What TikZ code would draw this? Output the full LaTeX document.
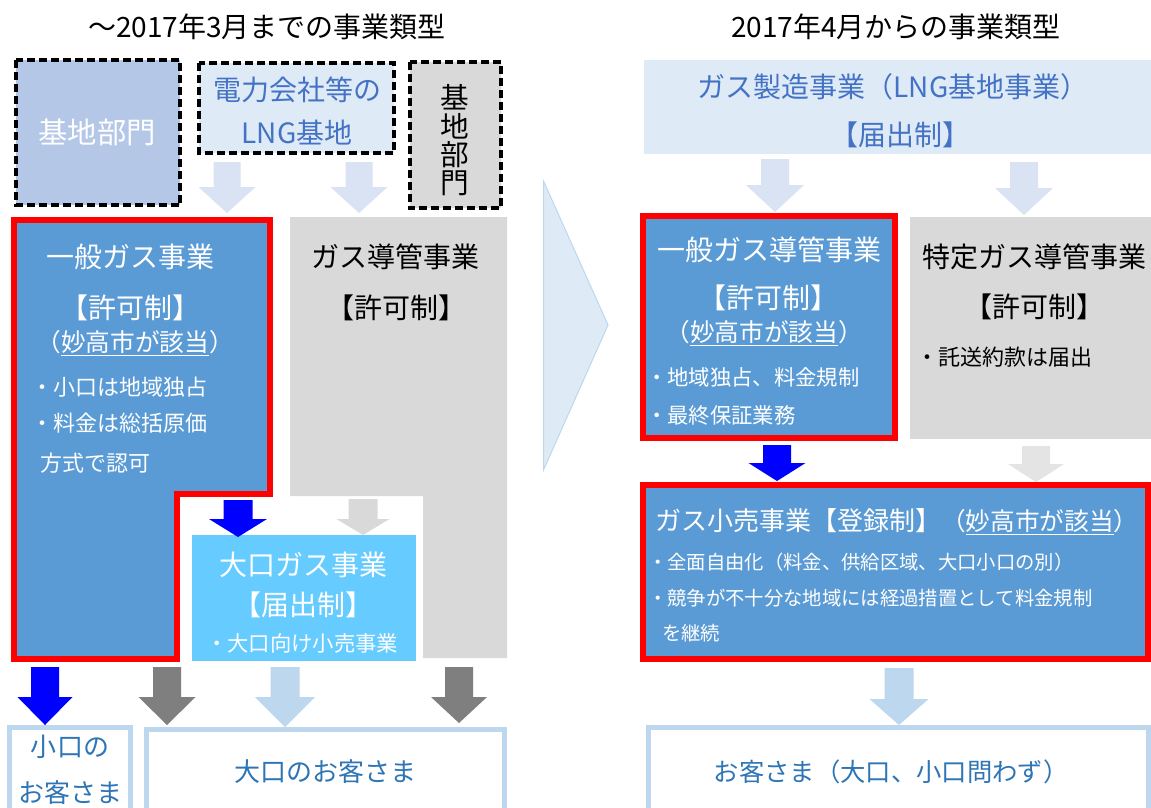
\documentclass[tikz,border=0pt]{standalone}
\usepackage{fontspec}
\setmainfont{Noto Sans CJK JP}
\definecolor{bfill}{HTML}{5B9BD5}
\definecolor{redline}{HTML}{FF0000}
\definecolor{lgray}{HTML}{D9D9D9}
\definecolor{llgray}{HTML}{E4E4E4}
\definecolor{dgray}{HTML}{7F7F7F}
\definecolor{palebl}{HTML}{DEEBF7}
\definecolor{kichi}{HTML}{B4C7E7}
\definecolor{arrpale}{HTML}{DAE3F3}
\definecolor{arrlb}{HTML}{BDD7EE}
\definecolor{cyanf}{HTML}{66CCFF}
\definecolor{txtblue}{HTML}{4472C4}
\definecolor{custblue}{HTML}{2E75B6}
\definecolor{pureblue}{HTML}{0000FF}
\newcommand\fsz[1]{\fontsize{#1}{#1}\selectfont}
\newcommand\blockarr[7]{\fill[#1] ({#2-#6},#3) -- ({#2+#6},#3) -- ({#2+#6},#4) -- ({#2+#7},#4) -- (#2,#5) -- ({#2-#7},#4) -- ({#2-#6},#4) -- cycle;}
\tikzset{
  lab/.style={inner sep=0pt, font=\fsz{21}},
  bul/.style={inner sep=0pt, anchor=west, font=\fsz{16.5}},
  dashbox/.style={draw=black, line width=3pt, dash pattern=on 6pt off 3pt},
  redb/.style={draw=redline, line width=4.5pt, miter limit=10},
  custb/.style={draw=arrlb, line width=3.75pt},
  chev/.style={fill=palebl, draw=arrlb, line width=0.75pt},
}
\begin{document}
\begin{tikzpicture}[x=0.75pt,y=-0.75pt]
\clip (0,0) rectangle (1151,807);
\fill[white] (0,0) rectangle (1151,807);

% titles
\node[lab] (titleL) at (267,27) {～2017年3月までの事業類型};
\node[lab] (titleR) at (896,27) {2017年4月からの事業類型};

% ---------- left panel ----------
\draw[dashbox, fill=kichi] (15.5,60) rectangle (180,205);
\node[lab, text=white, font=\fsz{22}] (kichiL) at (97,132) {基地部門};
\draw[dashbox, fill=palebl] (199,62.7) rectangle (394,152.7);
\node[lab, text=txtblue] (elec1) at (297,90) {電力会社等の};
\node[lab, text=txtblue] (elec2) at (297,133) {LNG基地};
\draw[dashbox, fill=lgray] (410,61.7) rectangle (500.7,208.3);
\node[lab, align=center, font=\fontsize{21.5}{21.2}\selectfont] (kichiV) at (455,140.5) {基\\地\\部\\門};

\draw[redb, fill=bfill] (13.8,219.5) -- (269.7,219.5) -- (269.7,493.5) -- (176.7,493.5) -- (176.7,658.5) -- (13.8,658.5) -- cycle;
\fill[lgray] (290,217) -- (507,217) -- (507,658) -- (423,658) -- (423,496) -- (290,496) -- cycle;
\fill[cyanf] (192,535) rectangle (416,661);

\node[lab, text=white] (ippan) at (130,257) {一般ガス事業};
\node[lab, text=white] (kyokaL) at (130,308) {【許可制】};
\node[lab, text=white, font=\fsz{18.5}] (myokoL) at (135,343) {（\underline{妙高市が該当}）};
\node[bul, text=white] (bL1) at (31,387) {・小口は地域独占};
\node[bul, text=white] (bL2) at (31,423) {・料金は総括原価};
\node[bul, text=white] (bL3) at (40,463) {方式で認可};

\node[lab] (doukan) at (395,257) {ガス導管事業};
\node[lab] (kyokaD) at (396,308) {【許可制】};

\node[lab, text=white] (ooguchi) at (303,565) {大口ガス事業};
\node[lab, text=white] (todokeL) at (303,605) {【届出制】};
\node[lab, text=white, font=\fsz{16}] (oobul) at (302,643) {・大口向け小売事業};

\draw[custb] (9.5,727.5) rectangle (130.5,830);
\draw[custb] (146.5,729.5) rectangle (504.5,830);
\node[lab, text=custblue, font=\fsz{19.5}] (kog1) at (70,747) {小口の};
\node[lab, text=custblue, font=\fsz{19.5}] (kog2) at (70,793) {お客さま};
\node[lab, text=custblue, font=\fsz{19.5}] (oog) at (325,772) {大口のお客さま};

% arrows left
\blockarr{arrpale}{227}{162}{187}{213}{13.5}{28.5}
\blockarr{arrpale}{359}{162}{187}{213}{13.5}{28.5}
\blockarr{pureblue}{238}{500}{519}{537}{14.5}{29}
\blockarr{lgray}{363}{499}{519}{535}{14.5}{26.5}
\blockarr{pureblue}{45}{667}{697}{725}{14}{27.5}
\blockarr{dgray}{167}{667}{697}{725}{14}{28.5}
\blockarr{arrlb}{285}{667}{697}{727}{14.5}{30}
\blockarr{dgray}{459}{667}{697}{723}{14}{28}

% chevron
\draw[chev] (543.5,181) -- (608,325) -- (543.5,470) -- cycle;

% ---------- right panel ----------
\fill[palebl] (644,60) rectangle (1151,154);
\node[lab, text=txtblue] (seizou) at (893,87) {ガス製造事業（LNG基地事業）};
\node[lab, text=txtblue] (todokeR) at (900,135) {【届出制】};

\draw[redb, fill=bfill] (643,216) rectangle (895,438);
\fill[lgray] (910,217) rectangle (1151,439);
\draw[redb, fill=bfill] (643,485) rectangle (1148,659);
\draw[custb] (648.5,727.5) rectangle (1148.5,830);

\node[lab, text=white] (ippanD) at (769,250) {一般ガス導管事業};
\node[lab, text=white] (kyokaR) at (768,298) {【許可制】};
\node[lab, text=white, font=\fsz{18.5}] (myokoR) at (764,333) {（\underline{妙高市が該当}）};
\node[bul, text=white, font=\fsz{16}] (bR1) at (646,377) {・地域独占、料金規制};
\node[bul, text=white, font=\fsz{16}] (bR2) at (646,415) {・最終保証業務};

\node[lab] (tokutei) at (1034,257) {特定ガス導管事業};
\node[lab] (kyokaT) at (1034,307) {【許可制】};
\node[bul] (bT1) at (916,357) {・託送約款は届出};

\node[lab, anchor=west, text=white, font=\fsz{19.5}] (kouri) at (655,522) {ガス小売事業【登録制】{\fsz{18.5}（\underline{妙高市が該当}）}};
\node[bul, text=white, font=\fsz{14.5}] (bK1) at (648,562) {・全面自由化（料金、供給区域、大口小口の別）};
\node[bul, text=white, font=\fsz{14.5}] (bK2) at (648,598) {・競争が不十分な地域には経過措置として料金規制};
\node[bul, text=white, font=\fsz{14.5}] (bK3) at (662,633) {を継続};

\node[lab, text=custblue, font=\fsz{19}] (custR) at (891,772) {お客さま（大口、小口問わず）};

% arrows right
\blockarr{arrpale}{775}{159}{185}{212}{14}{29}
\blockarr{arrpale}{1024}{162}{188}{215}{14}{29}
\blockarr{pureblue}{777}{445}{463}{481}{14}{28.5}
\blockarr{llgray}{1036}{446}{464}{482}{14}{28}
\blockarr{arrlb}{899}{668}{699}{725}{14.5}{29.5}
\end{tikzpicture}
\end{document}
